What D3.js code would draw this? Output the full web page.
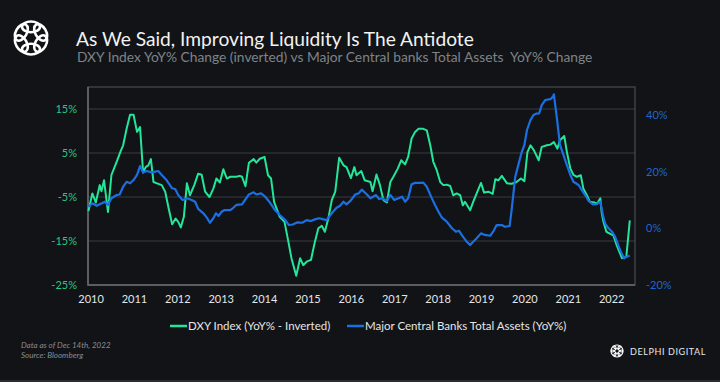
<!DOCTYPE html>
<html><head><meta charset="utf-8">
<script src="https://cdn.jsdelivr.net/npm/d3@7"></script>
<style>
html,body{margin:0;padding:0;background:#111317;}
svg{display:block;}
</style></head>
<body>
<svg id="chart" width="720" height="382"></svg>
<script>
// ---------- DATA ----------
const title = "As We Said, Improving Liquidity Is The Antidote";
const subtitle = "DXY Index YoY% Change (inverted) vs Major Central banks Total Assets  YoY% Change";
const seriesNames = ["DXY Index (YoY% - Inverted)", "Major Central Banks Total Assets (YoY%)"];
const yearLabels = [2010,2011,2012,2013,2014,2015,2016,2017,2018,2019,2020,2021,2022];
const leftTicks = [-25,-15,-5,5,15];
const rightTicks = [-20,0,20,40];

// DXY YoY% inverted (left axis) : decimal year, value
const dxyDates = [2010.45,2010.54,2010.62,2010.71,2010.75,2010.81,2010.90,2010.98,2011.10,2011.20,2011.25,2011.33,2011.41,2011.49,2011.57,2011.64,2011.71,2011.77,2011.83,2011.89,2011.95,2012.03,2012.14,2012.22,2012.30,2012.38,2012.46,2012.52,2012.58,2012.65,2012.72,2012.79,2012.89,2012.98,2013.06,2013.14,2013.24,2013.33,2013.40,2013.48,2013.56,2013.64,2013.72,2013.86,2013.94,2013.99,2014.07,2014.15,2014.26,2014.32,2014.40,2014.51,2014.59,2014.66,2014.73,2014.86,2014.97,2015.06,2015.13,2015.24,2015.33,2015.40,2015.48,2015.58,2015.67,2015.75,2015.83,2015.90,2015.98,2016.06,2016.14,2016.23,2016.33,2016.40,2016.50,2016.58,2016.63,2016.74,2016.82,2016.95,2017.00,2017.09,2017.17,2017.25,2017.33,2017.41,2017.48,2017.58,2017.66,2017.75,2017.82,2017.90,2017.98,2018.06,2018.17,2018.25,2018.33,2018.40,2018.48,2018.56,2018.63,2018.71,2018.79,2018.86,2018.94,2019.02,2019.08,2019.13,2019.25,2019.32,2019.40,2019.50,2019.57,2019.67,2019.77,2019.83,2019.90,2019.98,2020.10,2020.21,2020.32,2020.42,2020.50,2020.57,2020.64,2020.72,2020.83,2020.90,2021.02,2021.10,2021.18,2021.26,2021.32,2021.42,2021.48,2021.56,2021.63,2021.71,2021.80,2021.86,2021.94,2022.01,2022.11,2022.18,2022.25,2022.28,2022.32,2022.39,2022.47,2022.55,2022.63,2022.69,2022.75,2022.85,2022.93];
const dxyValues = [-8.2,-4.2,-6.25,-2.3,-3.7,-1.2,-8.4,0.0,3.0,5.6,6.75,10.5,13.7,13.7,9.8,10.9,0.55,1.8,2.2,3.6,-1.6,-1.9,-2.3,-3.8,-7.6,-11.2,-9.9,-10.65,-11.9,-9.5,-1.9,-4.6,-2.3,0.3,0.05,-3.8,-5.0,-3.1,-0.8,-1.7,1.3,-0.8,-0.4,-0.4,-0.2,-0.4,-2.55,2.8,3.6,2.8,3.7,4.1,-0.05,-0.8,-6.1,-9.5,-10.65,-15.2,-18.9,-22.9,-18.9,-20.5,-19.7,-19.3,-15.2,-12.1,-11.55,-12.9,-9.9,-5.7,-3.8,3.9,2.2,1.8,-0.7,1.8,-0.05,0.9,-1.2,-1.6,-3.7,0.1,-2.3,-5.7,-6.25,-1.6,-0.4,1.45,3.35,2.4,4.1,8.3,9.8,10.5,10.5,10.15,6.75,3.0,1.1,-1.6,-2.3,-2.2,-2.5,-4.6,-4.2,-4.6,-6.9,-6.1,-8.0,-6.1,-4.2,-1.8,-4.0,-3.8,-4.3,-0.95,-1.2,-0.2,-1.9,-2.0,-1.6,-0.8,-1.4,5.2,6.75,5.6,3.35,6.4,6.75,6.9,7.5,6.0,7.9,8.85,5.2,1.45,0.05,-0.4,-0.05,-3.1,-4.6,-6.1,-6.25,-6.5,-5.3,-8.4,-10.5,-12.9,-13.3,-13.7,-16.0,-17.45,-18.9,-18.6,-10.3];

// Major central banks total assets YoY% (right axis)
const cbDates = [2010.45,2010.54,2010.64,2010.76,2010.83,2010.90,2010.98,2011.10,2011.17,2011.25,2011.33,2011.41,2011.49,2011.57,2011.64,2011.71,2011.79,2011.91,2012.06,2012.14,2012.25,2012.38,2012.45,2012.52,2012.62,2012.72,2012.83,2012.91,2012.98,2013.10,2013.18,2013.25,2013.33,2013.39,2013.45,2013.52,2013.59,2013.72,2013.79,2013.86,2013.99,2014.06,2014.15,2014.26,2014.32,2014.43,2014.51,2014.60,2014.67,2014.75,2014.86,2014.99,2015.07,2015.16,2015.27,2015.38,2015.48,2015.58,2015.67,2015.77,2015.87,2015.94,2016.06,2016.17,2016.25,2016.33,2016.40,2016.50,2016.60,2016.68,2016.75,2016.87,2016.95,2017.08,2017.15,2017.22,2017.33,2017.41,2017.50,2017.60,2017.68,2017.75,2017.82,2017.90,2017.98,2018.09,2018.17,2018.25,2018.36,2018.44,2018.52,2018.60,2018.71,2018.83,2018.92,2018.99,2019.07,2019.17,2019.25,2019.32,2019.40,2019.50,2019.59,2019.71,2019.78,2019.86,2019.98,2020.05,2020.16,2020.21,2020.29,2020.37,2020.44,2020.50,2020.56,2020.64,2020.71,2020.78,2020.84,2020.90,2020.98,2021.10,2021.16,2021.18,2021.25,2021.32,2021.40,2021.48,2021.56,2021.63,2021.75,2021.82,2021.90,2021.98,2022.08,2022.17,2022.25,2022.31,2022.36,2022.44,2022.52,2022.59,2022.66,2022.74,2022.80,2022.85,2022.93];
const cbValues = [7.7,8.9,8.0,8.9,9.45,8.3,10.65,11.8,12.0,14.75,16.5,15.95,17.1,18.9,22.05,19.8,20.3,19.8,20.3,18.9,17.1,14.2,13.95,11.8,10.05,10.65,10.05,9.45,6.9,5.35,3.8,2.0,3.6,5.35,4.4,5.9,6.5,6.5,7.3,8.3,8.5,10.05,12.0,12.75,12.0,12.4,11.45,9.8,8.3,6.5,4.75,2.95,1.2,1.4,2.15,2.0,2.95,2.6,3.2,3.6,3.2,2.95,5.35,7.3,8.0,9.45,8.5,9.9,12.0,12.4,13.7,12.0,10.65,11.8,10.4,10.65,9.7,11.8,10.05,10.65,11.2,9.45,10.65,15.6,16.1,16.1,16.2,14.75,10.9,8.3,5.9,3.8,2.4,0.05,-1.15,-0.8,-2.6,-4.7,-5.85,-4.7,-3.5,-1.75,-2.3,-2.6,-1.15,1.2,1.2,0.6,0.85,7.1,18.3,23.0,27.1,29.5,34.8,38.3,40.1,40.6,40.7,43.6,45.4,45.7,46.6,47.4,38.9,29.5,26.0,22.4,18.9,16.5,15.35,13.6,11.8,9.7,8.5,8.6,9.45,4.75,1.8,0.05,-1.15,-2.9,-5.85,-8.8,-10.6,-10.0,-9.65];

const footnote1 = "Data as of Dec 14th, 2022";
const footnote2 = "Source: Bloomberg";
const brand = "DELPHI DIGITAL";

// ---------- STYLE ----------
const C = {bg:"#111317", green:"#23e69a", blue:"#1b6fe0", greenTick:"#2bc584", blueTick:"#1f66cf",
  grid:"#3c3d40", frame:"#4a4b4e", axis:"#6a6b6e", text:"#e6e6e6", sub:"#7e8388", foot:"#8a8d91"};
const FONT = "Lato, 'Open Sans', sans-serif";

const svg = d3.select("#chart");
svg.append("rect").attr("width",720).attr("height",382).attr("fill",C.bg);
svg.append("rect").attr("x",0).attr("y",380).attr("width",720).attr("height",2).attr("fill","#2a2c30");

// ---------- SCALES ----------
const plot = {l:88, r:635, t:87, b:285};
const x = d3.scaleLinear().domain([2010.44, 2023.05]).range([plot.l, plot.r]);
const yL = d3.scaleLinear().domain([-25, 20]).range([plot.b, plot.t]);
const yR = d3.scaleLinear().domain([-20, 50]).range([plot.b, plot.t]);

// gridlines
const g = svg.append("g");
g.selectAll("line.grid").data(leftTicks.filter(d=>d>-25)).join("line")
  .attr("x1",plot.l).attr("x2",plot.r).attr("y1",d=>yL(d)).attr("y2",d=>yL(d))
  .attr("stroke",C.grid).attr("stroke-width",1.2);
// frame
svg.append("rect").attr("x",plot.l).attr("y",plot.t).attr("width",plot.r-plot.l).attr("height",plot.b-plot.t)
  .attr("fill","none").attr("stroke",C.frame).attr("stroke-width",1.2);
svg.append("path").attr("d",`M${plot.l},${plot.t}V${plot.b}H${plot.r}`).attr("fill","none")
  .attr("stroke",C.axis).attr("stroke-width",1.5);

// axes
const axL = d3.axisLeft(yL).tickValues(leftTicks).tickSize(0).tickPadding(11).tickFormat(d=>d+"%");
const gL = svg.append("g").attr("transform",`translate(${plot.l},0)`).call(axL);
gL.select(".domain").remove();
gL.selectAll("text").attr("fill",C.greenTick).attr("font-family",FONT).attr("font-size",11);

const axR = d3.axisRight(yR).tickValues(rightTicks).tickSize(0).tickPadding(11).tickFormat(d=>d+"%");
const gR = svg.append("g").attr("transform",`translate(${plot.r},0)`).call(axR);
gR.select(".domain").remove();
gR.selectAll("text").attr("fill",C.blueTick).attr("font-family",FONT).attr("font-size",11);

const axB = d3.axisBottom(x).tickValues(yearLabels.map(y=>y+0.5)).tickSize(0).tickPadding(10)
  .tickFormat(d=>String(Math.floor(d)));
const gB = svg.append("g").attr("transform",`translate(0,${plot.b})`).call(axB);
gB.select(".domain").remove();
gB.selectAll("text").attr("fill",C.text).attr("font-family",FONT).attr("font-size",11);

// lines
const dxy = dxyDates.map((d,i)=>({t:d, v:dxyValues[i]}));
const cb = cbDates.map((d,i)=>({t:d, v:cbValues[i]}));
const lineL = d3.line().x(d=>x(d.t)).y(d=>yL(d.v));
const lineR = d3.line().x(d=>x(d.t)).y(d=>yR(d.v));
svg.append("path").datum(dxy).attr("d",lineL).attr("fill","none").attr("stroke",C.green)
  .attr("stroke-width",2).attr("stroke-linejoin","round");
svg.append("path").datum(cb).attr("d",lineR).attr("fill","none").attr("stroke",C.blue)
  .attr("stroke-width",2.2).attr("stroke-linejoin","round");

// legend
const legend = [{name:seriesNames[0], color:C.green, x:170},{name:seriesNames[1], color:C.blue, x:347}];
const lg = svg.append("g").selectAll("g").data(legend).join("g").attr("transform",d=>`translate(${d.x},326)`);
lg.append("line").attr("x1",0).attr("x2",17).attr("stroke",d=>d.color).attr("stroke-width",2.5);
lg.append("text").attr("x",18).attr("y",4).text(d=>d.name).attr("fill",C.text)
  .attr("font-family",FONT).attr("font-size",11.5);

// title
function fit(sel, w){ const n=sel.node(); let fs=+sel.attr("font-size"); const cw=n.getComputedTextLength(); sel.attr("font-size", fs*w/cw); }
const tt = svg.append("text").attr("x",76).attr("y",46).text(title).attr("fill","#f2f2f2")
  .attr("font-family",FONT).attr("font-size",21);
fit(tt, 398);
const st = svg.append("text").attr("x",77).attr("y",62).text(subtitle).attr("fill",C.sub)
  .attr("font-family",FONT).attr("font-size",14).attr("xml:space","preserve").style("white-space","pre");
fit(st, 516);

// logo
function logo(cx, cy, r, sw){
  const lgp = svg.append("g").attr("transform",`translate(${cx},${cy})`);
  d3.range(6).forEach(i=>{
    const a = i*60;
    lgp.append("ellipse").attr("cx",0).attr("cy",-r*0.62).attr("rx",r*0.5).attr("ry",r*0.3)
      .attr("transform",`rotate(${a})`).attr("fill","none").attr("stroke","#ffffff").attr("stroke-width",sw);
  });
}
logo(31, 38, 18, 2.6);
logo(617, 351, 6.5, 1.1);

// footnotes
svg.append("text").attr("x",21).attr("y",348).text(footnote1).attr("fill",C.foot)
  .attr("font-family",FONT).attr("font-size",8).attr("font-style","italic");
svg.append("text").attr("x",21).attr("y",358).text(footnote2).attr("fill",C.foot)
  .attr("font-family",FONT).attr("font-size",8).attr("font-style","italic");
svg.append("text").attr("x",630).attr("y",355).text(brand).attr("fill","#e8e8e8")
  .attr("font-family",FONT).attr("font-size",9.5).attr("letter-spacing",0.6)
  .attr("textLength",76).attr("lengthAdjust","spacingAndGlyphs");
</script>
</body></html>
